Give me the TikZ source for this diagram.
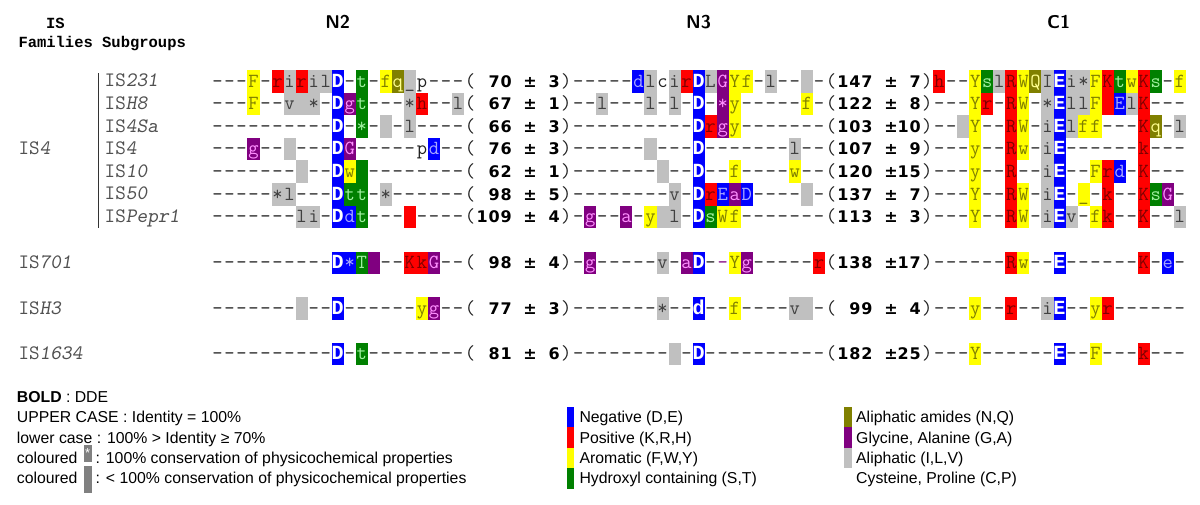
\documentclass[tikz,border=0pt]{standalone}
\usepackage{fontspec}
\setmainfont{Liberation Sans}
\newfontfamily\bmono{Liberation Mono}
\newfontfamily\numfont{DejaVu Sans}
\definecolor{alblue}{HTML}{0000FF}
\definecolor{alred}{HTML}{FF0000}
\definecolor{alyel}{HTML}{FFFF00}
\definecolor{algreen}{HTML}{008000}
\definecolor{alpurp}{HTML}{800080}
\definecolor{algrey}{HTML}{C0C0C0}
\definecolor{alolive}{HTML}{808000}
\definecolor{leggrey}{HTML}{808080}
\definecolor{tx}{HTML}{202020}
\definecolor{txb}{HTML}{A8A8FF}
\definecolor{txr}{HTML}{800000}
\definecolor{txy}{HTML}{808000}
\definecolor{txg}{HTML}{A0F0A0}
\definecolor{txp}{HTML}{FF90FF}
\definecolor{txl}{HTML}{404040}
\definecolor{txo}{HTML}{FFFF90}
\definecolor{labc}{HTML}{505050}
\def\xo{211.4}
\def\cw{12.03}
\def\rh{22.6}
\def\bl{5.8}
\newcommand\alcell[3]{\fill[#3] ({\xo+(#1-1)*\cw},{#2-\rh/2}) rectangle ++(\cw,\rh);}
\newcommand\alch[2]{\makebox[\cw pt][c]{\csname alf#1\endcsname{#2}}}
\expandafter\def\csname alf.\endcsname#1{\color{tx}#1}
\expandafter\def\csname alfb\endcsname#1{\color{txb}#1}
\expandafter\def\csname alfB\endcsname#1{\bmono\bfseries\fontsize{20.05}{22}\selectfont\color{white}#1}
\expandafter\def\csname alfr\endcsname#1{\color{txr}#1}
\expandafter\def\csname alfy\endcsname#1{\color{txy}#1}
\expandafter\def\csname alfg\endcsname#1{\color{txg}#1}
\expandafter\def\csname alfp\endcsname#1{\color{txp}#1}
\expandafter\def\csname alfl\endcsname#1{\color{txl}#1}
\expandafter\def\csname alfo\endcsname#1{\color{txo}#1}
\expandafter\def\csname alfP\endcsname#1{\color{alpurp}#1}
\expandafter\def\csname alfn\endcsname#1{\numfont\bfseries\fontsize{16}{18}\selectfont\color{black}#1}
\tikzset{
  rowtext/.style={anchor=base west, inner sep=0pt, outer sep=0pt, font=\ttfamily\fontsize{20}{22}\selectfont},
  lab/.style={anchor=base west, inner sep=0pt, text=labc, font=\ttfamily\fontsize{20.5}{22}\selectfont},
  hdr/.style={anchor=base, inner sep=0pt, font=\bmono\bfseries\fontsize{15.5}{18}\selectfont},
  seg/.style={anchor=base, inner sep=0pt, font=\sffamily\bfseries\fontsize{18.5}{20}\selectfont},
  leg/.style={anchor=base west, inner sep=0pt, font=\fontsize{15.8}{18}\selectfont},
  bar/.style={inner sep=0pt, minimum width=7.5pt, minimum height=20.4pt},
}
\newcommand\alnode[2]{\node[rowtext] (#1) at (\xo,#2+\bl) {\alrowtext};}
\ExplSyntaxOn
\str_new:N \l__al_chars_str
\str_new:N \l__al_codes_str
\str_new:N \l__al_c_str
\str_new:N \l__al_k_str
\tl_new:N \g_al_text_tl
\cs_new:Npn \alrowtext { \tl_use:N \g_al_text_tl }
\NewDocumentCommand \alrow { m m m m }
  {
    \str_set:Nn \l__al_chars_str {#3}
    \str_set:Nn \l__al_codes_str {#4}
    \str_remove_all:Nn \l__al_chars_str {|}
    \str_remove_all:Nn \l__al_codes_str {|}
    \tl_gclear:N \g_al_text_tl
    \int_step_inline:nn { \str_count:N \l__al_chars_str }
      {
        \str_set:Nx \l__al_c_str { \str_item:Nn \l__al_chars_str {##1} }
        \str_set:Nx \l__al_k_str { \str_item:Nn \l__al_codes_str {##1} }
        \str_if_eq:VnT \l__al_c_str {.} { \str_clear:N \l__al_c_str }
        \exp_args:NV \str_case:nn \l__al_k_str
          {
            {b} { \alcell {##1} {#2} {alblue} }
            {B} { \alcell {##1} {#2} {alblue} }
            {r} { \alcell {##1} {#2} {alred} }
            {y} { \alcell {##1} {#2} {alyel} }
            {g} { \alcell {##1} {#2} {algreen} }
            {p} { \alcell {##1} {#2} {alpurp} }
            {l} { \alcell {##1} {#2} {algrey} }
            {o} { \alcell {##1} {#2} {alolive} }
          }
        \tl_gput_right:Nx \g_al_text_tl { \exp_not:N \alch { \l__al_k_str } { \l__al_c_str } }
      }
    \alnode {#1} {#2}
  }
\ExplSyntaxOff
\begin{document}
\begin{tikzpicture}[x=1pt,y=-1pt]
\useasboundingbox (0,0) rectangle (1200,504);
\fill[white] (0,0) rectangle (1200,504);
% headers
\node[hdr] (hIS) at (55.5,28.3) {IS};
\node[hdr, anchor=base west] (hFam) at (18.3,47.7) {Families Subgroups};
\node[seg] (hN2) at (337.7,28.3) {N2};
\node[seg] (hN3) at (698.6,28.3) {N3};
\node[seg] (hC1) at (1058.7,28.3) {C1};
% alignment rows
\alrow{r1}{81.3}{---F-ririlD-t-fq_p---|(.70.±.3)|-----dlcirDLGYf-l--.-|(147.±.7)|h--YslRWQIEi*FKtwKs-f}
               {...y.rlrllB.g.yol....|..nn.n.n.|.....bl.lrBlpyy.l..l.|.nnn.n.n.|r..yglryolBllyrgyrg.y}
\alrow{r2}{103.9}{---F--v.*-Dgt---*h--l|(.67.±.1)|--l---l-l-D-*y-----f-|(122.±.8)|---Yr-RW-*EllF.ElK---}
               {...y..lll.Bpg...lr..l|..nn.n.n.|..l...l.l.B.py.....y.|.nnn.n.n.|...yr.ry.lBllyrblr...}
\alrow{r3}{126.5}{----------D-*-.-l----|(.66.±.3)|----------Drgy-------|(103.±10)|--.Y--RW-iElff---Kq-l}
               {..........B.g.l.l....|..nn.n.n.|..........Brpy.......|.nnn.nnn.|..ly..ry.lBlyy...ro.l}
\alrow{r4}{149.1}{---g--.---DG-----pd--|(.76.±.3)|------.---D-------l--|(107.±.9)|---y--Rw-iE------k---}
               {...p..l...Bp......b..|..nn.n.n.|......l...B.......l..|.nnn.n.n.|...y..ry.lB......r...}
\alrow{r5}{171.7}{-------.--Dw.--------|(.62.±.1)|-------.--D--f----w--|(120.±15)|---y--R--iE--Frd-K---}
               {.......l..Byg........|..nn.n.n.|.......l..B..y....y..|.nnn.nnn.|...y..r..lB..yrb.r...}
\alrow{r6}{194.3}{-----*l---Dtt-*------|(.98.±.5)|--------v-DrEaD----.-|(137.±.7)|---Y--RW-iE-_-k--KsG-}
               {.....ll...Bgg.l......|..nn.n.n.|........l.Brbpb....l.|.nnn.n.n.|...y..ry.lB.y.r..rgp.}
\alrow{r7}{216.9}{-------li-Ddt---.----|(109.±.4)|-g--a-y.l-DsWf-------|(113.±.3)|---Y--RW-iEv-fk--K--l}
               {.......ll.Bbg...r....|.nnn.n.n.|.p..p.yll.Bgyy.......|.nnn.n.n.|...y..ry.lBl.yr..r..l}
\alrow{r8}{263}{----------D*T.--KkG--|(.98.±.4)|-g-----v-aD--Yg-----r|(138.±17)|------Rw--E------K-e-}
               {..........Bbgp..rrp..|..nn.n.n.|.p.....l.pB.Pyp.....r|.nnn.nnn.|......ry..B......r.b.}
\alrow{r9}{308.5}{-------.--D------yg--|(.77.±.3)|-------*--d--f----v.-|(.99.±.4)|---y--r--iE--yr------}
               {.......l..B......yp..|..nn.n.n.|.......l..B..y....ll.|..nn.n.n.|...y..r..lB..yr......}
\alrow{r10}{354}{----------D-t--------|(.81.±.6)|--------.-D----------|(182.±25)|---Y------E--F---k---}
               {..........B.g........|..nn.n.n.|........l.B..........|.nnn.nnn.|...y......B..y...r...}
% subgroup bracket
\coordinate (brTop) at (98.5,73);
\coordinate (brBot) at (98.5,228);
\draw[line width=1.3pt, black!80] (brTop) -- (brBot);
% subgroup labels
\node[lab] (s1) at (104.5,86.9) {IS\textsl{231}};
\node[lab] (s2) at (104.5,109.5) {IS\textsl{H8}};
\node[lab] (s3) at (104.5,132.1) {IS\textsl{4Sa}};
\node[lab] (s4) at (104.5,154.7) {IS\textsl{4}};
\node[lab] (s5) at (104.5,177.3) {IS\textsl{10}};
\node[lab] (s6) at (104.5,199.9) {IS\textsl{50}};
\node[lab] (s7) at (104.5,222.5) {IS\textsl{Pepr1}};
% family labels
\node[lab] (f1) at (18.3,154.7) {IS\textsl{4}};
\node[lab] (f2) at (18.3,268.6) {IS\textsl{701}};
\node[lab] (f3) at (18.3,314.1) {IS\textsl{H3}};
\node[lab] (f4) at (18.3,359.6) {IS\textsl{1634}};
% legend left
\node[leg] (g1) at (16.7,402.3) {\textbf{BOLD} : DDE};
\node[leg] (g2) at (16.7,422.7) {UPPER CASE : Identity = 100\%};
\node[leg] (g3) at (16.7,443.1) {lower case : 100\% > Identity ≥ 70\%};
\node[leg] (g4) at (16.7,463.5) {coloured};
\node[inner sep=0pt, fill=leggrey, minimum width=8pt, minimum height=17pt, text=white, font=\fontsize{13}{14}\selectfont] (k4) at (87.7,453.3) {*};
\node[leg] (g4b) at (95.5,463.5) {: 100\% conservation of physicochemical properties};
\node[leg] (g5) at (16.7,483.9) {coloured};
\node[inner sep=0pt, fill=leggrey, minimum width=8pt, minimum height=27pt] (k5) at (88,479.5) {};
\node[leg] (g5b) at (95.5,483.9) {: < 100\% conservation of physicochemical properties};
% legend right, column 1
\node[bar, fill=alblue] (b1) at (570.3,417.2) {};
\node[bar, fill=alred] (b2) at (570.3,437.6) {};
\node[bar, fill=alyel] (b3) at (570.3,458.0) {};
\node[bar, fill=algreen] (b4) at (570.3,478.4) {};
\node[leg] (t1) at (579.3,422.7) {Negative (D,E)};
\node[leg] (t2) at (579.3,443.1) {Positive (K,R,H)};
\node[leg] (t3) at (579.3,463.5) {Aromatic (F,W,Y)};
\node[leg] (t4) at (579.3,483.9) {Hydroxyl containing (S,T)};
% legend right, column 2
\node[bar, fill=alolive] (b5) at (848,417.2) {};
\node[bar, fill=alpurp] (b6) at (848,437.6) {};
\node[bar, fill=algrey] (b7) at (848,458.0) {};
\node[leg] (t5) at (856,422.7) {Aliphatic amides (N,Q)};
\node[leg] (t6) at (856,443.1) {Glycine, Alanine (G,A)};
\node[leg] (t7) at (856,463.5) {Aliphatic (I,L,V)};
\node[leg] (t8) at (856,483.9) {Cysteine, Proline (C,P)};
\end{tikzpicture}
\end{document}
